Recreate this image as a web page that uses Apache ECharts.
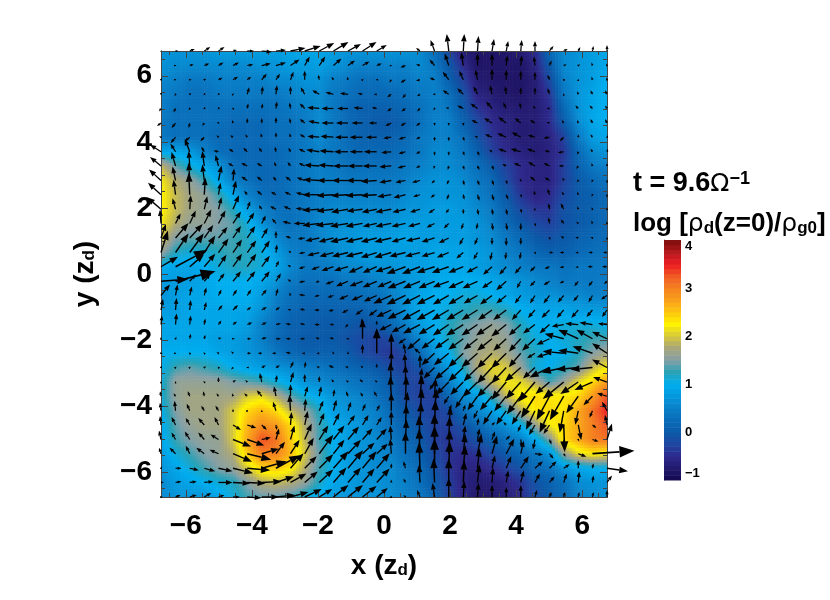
<!DOCTYPE html>
<html>
<head>
<meta charset="utf-8">
<style>
  html, body { margin: 0; background: #fff; }
  #chart { width: 830px; height: 600px; }
</style>
<script src="https://cdn.jsdelivr.net/npm/echarts@6/dist/echarts.min.js"></script>
</head>
<body>
<div id="chart"></div>
<script>
// dust density map (log, in tenths) with the velocity arrows on top, both on the same 32x32 nodes
const xNodes = [-6.75,-6.31,-5.88,-5.44,-5.01,-4.57,-4.14,-3.7,-3.27,-2.83,-2.4,-1.96,-1.53,-1.09,-0.65,-0.22,0.22,0.65,1.09,1.53,1.96,2.4,2.83,3.27,3.7,4.14,4.57,5.01,5.44,5.88,6.31,6.75];
const yNodes = [6.75,6.31,5.88,5.44,5.01,4.57,4.14,3.7,3.27,2.83,2.4,1.96,1.53,1.09,0.65,0.22,-0.22,-0.65,-1.09,-1.53,-1.96,-2.4,-2.83,-3.27,-3.7,-4.14,-4.57,-5.01,-5.44,-5.88,-6.31,-6.75];

const densityTenths = [
  [7,7,7,7,8,8,8,8,8,9,9,9,8,7,7,7,7,7,6,3,-2,-7,-8,-8,-8,-7,-5,2,6,7,8,9],
  [7,6,6,6,6,6,6,7,7,8,8,8,7,6,5,5,5,5,6,4,0,-5,-8,-8,-8,-8,-6,0,6,7,8,9],
  [6,5,4,4,5,5,5,5,6,6,7,7,5,4,3,3,4,4,5,5,1,-3,-7,-8,-8,-8,-7,-2,5,7,8,10],
  [5,4,3,3,4,4,4,4,4,5,6,6,4,3,2,2,2,3,4,5,3,-1,-6,-7,-8,-8,-7,-4,4,7,9,10],
  [5,3,3,3,3,3,3,3,3,4,5,6,4,2,1,1,1,2,3,5,4,0,-4,-6,-7,-7,-7,-5,2,7,9,10],
  [4,3,3,3,3,2,2,2,3,3,4,6,4,2,1,0,0,1,3,5,5,1,-2,-5,-6,-7,-7,-5,0,6,9,10],
  [4,3,3,3,2,2,2,2,3,3,4,6,4,2,1,1,1,2,4,5,5,3,-1,-4,-6,-7,-7,-6,-3,4,8,9],
  [9,9,8,5,3,2,2,2,2,3,4,5,4,3,2,2,2,3,4,6,6,4,1,-3,-5,-6,-7,-6,-4,2,6,7],
  [19,14,11,9,7,3,2,2,2,3,4,5,4,3,3,3,3,4,5,6,6,5,3,0,-3,-5,-6,-6,-3,1,4,5],
  [22,18,16,13,9,5,3,2,2,3,4,5,5,4,4,4,4,5,6,7,7,6,4,2,-2,-5,-6,-6,-3,0,2,3],
  [23,19,17,16,13,9,5,3,2,3,4,5,5,5,5,5,5,6,7,7,7,7,5,3,0,-4,-6,-5,-2,0,1,2],
  [23,19,17,16,15,12,8,5,3,3,4,5,6,6,6,6,6,7,7,8,8,7,6,4,1,-2,-4,-4,-1,0,1,2],
  [22,18,16,16,15,14,11,7,4,3,4,6,6,7,7,7,7,8,8,8,8,8,7,5,2,0,-2,-3,-1,0,1,2],
  [20,15,14,14,14,13,12,10,6,4,4,5,7,7,8,8,8,9,8,8,8,8,7,6,4,2,0,-1,0,1,2,2],
  [16,12,11,11,12,13,12,11,8,5,4,5,6,7,8,8,8,8,8,9,9,9,8,7,5,4,2,1,1,2,3,3],
  [10,9,9,10,11,12,12,11,9,6,4,4,5,6,6,7,7,8,8,9,9,9,8,7,6,5,4,4,3,4,4,4],
  [8,8,8,9,10,10,10,9,7,4,3,3,3,4,4,5,6,7,8,9,10,10,10,9,8,7,6,5,4,4,4,4],
  [7,8,9,9,10,10,10,8,5,3,2,2,2,2,3,3,5,7,9,10,10,11,11,10,9,8,7,7,6,6,5,5],
  [8,8,9,9,9,9,9,7,4,2,1,1,1,1,1,2,4,7,9,10,11,12,13,13,12,10,9,9,9,8,8,7],
  [9,9,9,9,9,9,8,5,3,1,1,0,0,0,-1,0,2,5,8,10,12,14,15,16,15,12,10,10,11,11,11,10],
  [9,9,9,9,8,8,7,5,2,1,0,0,0,-1,-2,-3,-2,2,6,9,12,14,16,17,16,13,11,10,11,12,13,13],
  [10,10,10,10,9,8,7,6,4,2,1,1,1,0,-2,-3,-4,-2,2,7,10,15,17,18,17,14,12,10,10,12,15,17],
  [10,13,14,13,12,10,9,8,7,6,5,4,3,2,1,0,-2,-3,-1,4,8,12,18,21,20,16,11,10,12,14,19,22],
  [11,16,16,16,16,15,14,13,11,9,7,6,5,4,3,2,0,-2,-3,0,5,9,15,19,22,21,18,13,16,21,24,28],
  [11,16,17,17,17,17,20,21,18,14,11,9,7,6,5,3,1,-2,-3,-3,2,6,8,13,19,23,24,23,23,24,28,33],
  [10,15,17,17,17,20,24,26,24,19,16,12,8,7,6,5,2,0,-2,-3,-2,3,6,8,12,18,23,24,23,27,31,35],
  [9,14,16,17,17,20,26,29,28,24,18,13,10,8,7,5,3,1,-1,-3,-3,-1,2,5,7,10,16,22,24,27,30,33],
  [9,13,15,16,16,20,27,33,31,25,19,13,10,8,7,6,4,2,0,-3,-4,-3,-1,1,3,5,9,15,24,27,30,31],
  [8,11,13,15,16,18,25,30,30,26,20,14,10,8,7,6,5,3,1,-2,-4,-5,-4,-2,0,2,4,7,16,21,23,22],
  [7,9,11,13,15,16,20,24,25,23,18,13,10,8,7,6,6,4,2,-1,-4,-6,-6,-5,-3,-1,2,3,7,9,10,10],
  [6,8,9,10,11,12,15,18,19,18,16,12,9,8,7,7,6,5,3,0,-3,-6,-7,-7,-6,-4,-1,1,3,6,7,7],
  [6,7,7,7,9,11,13,14,14,13,11,9,8,7,7,7,6,5,4,1,-3,-6,-8,-8,-7,-5,-2,0,2,5,6,7]
];

const arrowU = [
  [0,3,5,6,6,4,7,10,10,15,16,15,15,13,14,10,0,0,-4,-4,-2,1,1,2,2,1,0,4,4,2,1,0],
  [0,1,4,5,5,6,6,9,10,9,5,6,8,7,7,5,1,-5,-4,-5,-4,-2,0,0,1,1,-1,2,3,2,-1,-1],
  [1,1,2,2,4,5,4,5,4,3,0,-1,-2,-1,1,-1,-2,-5,-4,-5,-6,-4,-2,0,0,0,0,-2,-1,0,-1,-1],
  [0,-1,-1,-1,-1,1,2,1,1,0,-4,-7,-8,-8,-5,-3,-4,-3,-3,-2,-6,-6,-4,-2,-1,0,0,-2,0,-1,-2,-2],
  [-2,-2,-1,-1,-1,-1,1,1,1,-1,-5,-12,-12,-11,-9,-5,-4,-4,-3,-1,-3,-6,-7,-6,-3,-1,-2,-3,0,-3,-3,-2],
  [-4,-4,-1,-2,1,-1,0,0,0,-1,-5,-11,-12,-12,-11,-8,-6,-5,-4,0,0,0,-6,-8,-8,-6,-5,-3,-2,-1,-2,-2],
  [-2,-5,-5,-4,-2,-3,-2,-1,0,-1,-5,-12,-13,-13,-13,-11,-8,-7,-4,0,0,1,-3,-7,-9,-9,-7,-6,-4,0,-2,1],
  [-11,-5,-5,-3,-5,-4,-4,-3,-1,-2,-6,-13,-14,-14,-13,-13,-10,-7,-4,0,0,1,2,-3,-8,-10,-8,-5,-6,-1,-2,1],
  [-11,-4,-1,-2,-3,-5,-6,-5,-2,-3,-6,-15,-15,-15,-15,-14,-12,-8,-4,-1,-1,1,2,2,-4,-7,-7,-6,-5,-2,-1,0],
  [-12,-3,-1,-2,3,1,-6,-5,-3,-5,-8,-16,-16,-16,-16,-16,-12,-10,-8,-3,-2,1,2,2,1,-1,-5,-5,-1,-1,-1,0],
  [-13,-2,-1,1,2,3,-3,-5,-5,-6,-9,-17,-17,-17,-17,-16,-14,-12,-7,-4,-2,1,2,2,2,1,-1,-2,-2,-1,-1,0],
  [-14,-3,1,3,3,6,3,-3,-6,-7,-9,-17,-17,-17,-16,-15,-16,-13,-10,-6,-3,0,1,1,1,1,1,-1,-3,-1,-1,0],
  [-1,5,6,7,7,8,7,4,-4,-8,-11,-17,-18,-18,-17,-14,-16,-14,-12,-8,-5,-2,-1,1,1,0,1,-1,-3,-2,-1,-1],
  [5,13,13,9,9,8,8,6,0,-5,-7,-14,-15,-18,-17,-16,-17,-14,-14,-13,-10,-4,-3,0,0,0,0,1,-3,-3,-2,0],
  [7,13,14,11,10,9,9,8,1,-2,-6,-12,-14,-16,-17,-16,-17,-16,-15,-13,-12,-7,-4,-2,-1,-1,1,4,-4,-3,-4,-4],
  [17,32,14,11,8,9,9,8,3,-3,-6,-8,-12,-14,-14,-14,-16,-19,-18,-18,-17,-15,-11,-9,-7,-6,-5,-5,-4,-3,-5,-5],
  [27,40,6,6,6,8,8,8,5,-3,-6,-4,-8,-12,-13,-14,-14,-18,-17,-16,-16,-15,-15,-10,-10,-4,-5,-6,-4,-4,-4,-3],
  [9,2,2,2,3,4,4,5,2,-1,-6,-5,-6,-9,-11,-13,-18,-19,-18,-18,-16,-15,-14,-12,-10,-6,-5,-6,-6,-5,-4,-6],
  [2,1,1,2,4,5,4,5,4,-3,-5,-5,-5,-6,-7,-8,-15,-18,-18,-18,-17,-17,-16,-14,-13,-9,-7,-8,-7,-7,-6,-5],
  [1,1,1,1,3,4,5,5,5,-5,-5,-5,-4,-3,-1,0,-12,-14,-17,-16,-16,-17,-16,-16,-15,-12,-12,-10,-12,-13,-13,-9],
  [0,1,1,1,3,2,4,5,5,-5,-5,-4,-4,-2,0,0,-1,-7,-13,-13,-14,-15,-14,-15,-13,-12,-13,-13,-19,-20,-16,-15],
  [2,1,-1,-1,-2,-2,4,-4,-4,-5,-3,-3,-1,0,0,0,0,-2,-6,-13,-15,-15,-16,-15,-15,-12,-8,-13,-21,-20,-20,-15],
  [1,1,1,2,-1,-2,-1,4,4,3,1,-3,-5,-3,-2,0,0,-1,0,-11,-14,-15,-14,-15,-15,-16,-12,-20,-22,-22,-22,-15],
  [0,0,0,-1,0,3,-2,-2,1,3,0,0,-2,-2,-3,-2,-1,0,2,-5,-13,-13,-15,-15,-15,-15,-17,-14,-21,-18,-18,-14],
  [-1,-2,-2,-1,-2,-1,-3,-5,-2,0,3,2,1,-2,-2,-3,-1,1,2,1,-5,-8,-10,-12,-12,-14,-14,-13,-14,-12,-9,-10],
  [-1,-1,-3,-3,-3,0,1,0,-3,-1,1,4,3,3,3,3,0,2,2,2,3,2,-4,-9,-10,-9,-9,-10,-4,-3,-3,-5],
  [-1,-4,-4,-6,-4,8,9,5,1,1,3,5,6,7,6,5,0,1,1,1,2,3,1,3,-3,-3,-6,-6,1,3,4,-2],
  [-2,-4,-5,-6,-8,18,17,9,3,4,7,9,11,11,10,10,-1,1,-1,0,1,2,2,3,4,1,-2,2,1,1,6,5],
  [-2,-6,-4,-8,-9,19,24,17,9,9,9,14,11,13,12,11,-1,0,-1,0,1,2,4,5,8,3,8,4,2,8,42,0],
  [1,6,9,11,14,20,23,25,24,13,12,14,15,15,14,13,0,-2,-1,0,1,2,2,3,5,8,8,7,6,0,1,21],
  [3,6,7,9,14,17,18,20,18,16,13,14,13,13,12,13,0,-2,-1,-1,0,1,2,1,2,3,5,5,3,1,1,5],
  [2,5,7,7,6,7,14,17,19,18,17,13,15,15,14,11,-2,-2,-3,-2,0,1,1,0,0,0,2,2,1,1,1,0]
];

const arrowV = [
  [0,0,2,4,4,1,0,-1,1,3,5,8,9,7,9,6,0,0,3,11,17,17,15,12,10,11,10,5,2,4,5,6],
  [0,0,1,2,3,3,1,2,3,6,9,9,7,5,4,2,0,-2,1,6,12,13,12,12,10,10,9,5,1,1,3,2],
  [2,0,0,1,2,3,3,6,6,8,9,5,3,3,1,0,-3,-3,-1,2,8,9,10,11,10,9,8,5,1,1,3,2],
  [-1,-2,-1,-1,-1,1,7,8,9,8,7,4,2,1,1,0,-3,-4,-2,0,4,6,8,9,8,7,7,6,1,3,4,4],
  [-3,-4,-2,-1,-1,1,5,5,7,6,5,1,0,0,1,1,-3,-3,-3,-2,1,3,5,7,6,6,3,0,0,3,3,3],
  [-3,-5,-5,-3,-1,3,5,5,6,5,4,2,0,0,0,0,-3,-3,-3,-3,-3,-3,3,5,6,5,3,1,3,3,4,4],
  [1,-6,-4,-4,2,2,3,4,5,4,3,1,1,0,0,0,-1,-2,-2,-4,-4,-4,1,3,4,5,2,-1,-4,3,3,2],
  [7,8,13,5,1,3,4,4,5,4,3,2,1,0,0,0,-1,-2,-2,-4,-4,-4,-4,2,3,3,3,1,-1,-3,3,3],
  [9,14,15,15,11,3,3,3,4,4,3,1,1,0,0,0,-1,-2,-2,-3,-4,-4,-4,-4,2,3,4,3,0,-3,3,3],
  [11,14,18,16,15,12,4,4,4,4,3,1,0,0,0,-1,-2,-2,-2,-3,-4,-5,-5,-5,-4,2,4,3,3,-2,-2,-3],
  [12,15,22,17,12,14,4,4,3,3,2,0,-1,-1,-1,-1,-2,-3,-2,-3,-5,-5,-6,-6,-5,-3,4,6,3,3,-2,-3],
  [12,11,14,13,12,14,8,4,3,3,1,-1,-2,-3,-2,-3,-3,-3,-3,-4,-4,-5,-6,-6,-6,-4,1,6,6,3,2,2],
  [14,10,13,14,13,12,11,8,5,2,0,-2,-2,-3,-3,-3,-3,-3,-3,-4,-5,-6,-6,-7,-7,-7,-3,6,4,2,3,2],
  [14,15,14,13,11,12,12,10,7,2,-1,-3,-4,-4,-4,-4,-4,-4,-3,-4,-5,-7,-7,-7,-8,-7,0,-2,2,1,1,1],
  [22,19,19,17,14,13,12,12,8,2,-1,-3,-4,-4,-4,-5,-5,-4,-4,-4,-5,-6,-7,-8,-7,-7,-2,0,0,0,0,0],
  [10,17,12,13,12,13,13,11,6,2,-2,-3,-4,-4,-6,-6,-5,-7,-7,-6,-6,-6,-6,-8,-8,-7,-5,-2,-1,-1,0,0],
  [2,10,7,7,8,10,10,10,8,2,-1,-1,-3,-5,-5,-6,-6,-7,-7,-7,-6,-7,-7,-7,-9,-7,-5,-4,-2,-5,-5,-3],
  [11,11,9,8,6,6,6,6,7,3,1,-1,-2,-4,-5,-6,-8,-9,-9,-9,-9,-9,-8,-9,-8,-8,-8,-8,-7,-6,-7,-4],
  [11,12,10,8,5,5,3,3,3,1,1,0,-1,-3,-5,-6,-7,-9,-10,-10,-10,-10,-10,-10,-10,-10,-8,-8,-8,-8,-7,-7],
  [9,11,9,6,4,3,2,2,1,1,1,0,0,-3,6,4,-6,-8,-9,-10,-11,-11,-11,-11,-12,-11,-9,-9,-2,1,2,1],
  [2,2,5,4,1,0,0,1,0,0,0,1,1,0,20,10,-3,-5,-11,-10,-10,-11,-11,-12,-12,-13,-12,-6,5,9,9,7],
  [0,0,1,1,1,2,0,0,0,1,0,0,2,2,9,25,20,10,5,-12,-12,-14,-14,-15,-15,-14,-5,-4,2,3,7,10],
  [2,1,1,1,1,-2,0,2,2,6,6,1,2,1,2,4,16,14,13,-11,-12,-14,-14,-16,-16,-14,-11,-10,-5,-2,-2,8],
  [1,1,0,1,5,2,2,9,7,10,8,6,3,2,3,2,20,17,14,-8,-13,-13,-15,-15,-18,-17,-20,-12,-17,-12,-8,5],
  [5,3,5,5,3,3,3,6,10,12,10,10,7,5,4,5,20,20,21,18,-8,-12,-14,-14,-15,-18,-22,-24,-24,-17,-9,3],
  [8,10,7,5,5,2,1,1,9,16,12,10,11,9,7,6,18,19,22,22,6,6,-8,-14,-14,-14,-19,-22,-22,-14,-7,9],
  [9,8,7,7,8,-5,-3,-5,-5,13,14,12,12,10,10,8,14,20,23,25,18,12,7,3,3,-7,-10,-9,-27,-15,-3,10],
  [9,7,8,7,5,-7,-6,2,11,14,16,14,14,13,11,11,14,20,24,26,23,14,11,8,4,-8,-10,-5,-5,-2,-2,16],
  [6,6,8,6,4,-8,-6,5,12,14,16,19,14,14,11,10,15,22,25,28,24,20,20,18,15,13,-1,-5,-3,-3,3,0],
  [2,0,-2,-3,-3,-5,-2,7,13,15,12,14,17,18,17,15,5,7,26,30,27,23,20,13,12,12,7,7,4,8,5,-3],
  [0,1,1,1,0,-1,-1,1,6,9,11,13,15,15,14,14,3,4,18,24,24,22,18,15,12,12,9,6,9,11,7,7],
  [0,2,2,4,2,0,-1,0,2,5,8,8,12,12,11,9,-1,2,7,14,19,16,14,12,10,12,7,5,5,5,5,7]
];

const tickValues = [-6, -4, -2, 0, 2, 4, 6];
const minorTickValues = [-6.5, -5.5, -5, -4.5, -3.5, -3, -2.5, -1.5, -1, -0.5, 0.5, 1, 1.5, 2.5, 3, 3.5, 4.5, 5, 5.5, 6.5];
const colorbarLevels = [-1,-0.9,-0.8,-0.7,-0.6,-0.5,-0.4,-0.3,-0.2,-0.1,0,0.1,0.2,0.3,0.4,0.5,0.6,0.7,0.8,0.9,1,1.1,1.2,1.3,1.4,1.5,1.6,1.7,1.8,1.9,2,2.1,2.2,2.3,2.4,2.5,2.6,2.7,2.8,2.9,3,3.1,3.2,3.3,3.4,3.5,3.6,3.7,3.8,3.9];

// evenly spaced from -1 to 4
const colormap = ['#12084f','#231a6e','#2e2a8c','#1f46a0','#0b5aa8','#0a6cb8','#0a80c8','#0598dc','#00aeef','#2aa2b6','#85a0a6','#a8a67c','#d6c83c','#fff200','#fdc70f','#f9a01b','#f58220','#f15a24','#ed1c24','#b51a1f','#7a0c0c'];

const FONT = '"Liberation Sans", Arial, sans-serif';
const SUBDIV = 5;
const AXIS_MIN = -6.75;
const AXIS_MAX = 6.75;

function colorOf(v) {
  const t = Math.min(1, Math.max(0, (v + 1) / 5));
  return echarts.color.lerp(t, colormap);
}

// one quad between four nodes, shaded across like the contour fill of the original
function renderDensityCell(params, api) {
  const p0 = api.coord([api.value(0), api.value(1)]);
  const p1 = api.coord([api.value(2), api.value(3)]);
  const [d00, d10, d01, d11] = [api.value(4), api.value(5), api.value(6), api.value(7)];
  const w = (p1[0] - p0[0]) / SUBDIV;
  const h = (p1[1] - p0[1]) / SUBDIV;
  const children = [];
  for (let a = 0; a < SUBDIV; a++) {
    for (let b = 0; b < SUBDIV; b++) {
      const s = (a + 0.5) / SUBDIV;
      const t = (b + 0.5) / SUBDIV;
      const v = (d00 * (1 - s) + d10 * s) * (1 - t) + (d01 * (1 - s) + d11 * s) * t;
      children.push({
        type: 'rect',
        shape: { x: p0[0] + a * w, y: p0[1] + b * h, width: w + 0.6, height: h + 0.6 },
        style: { fill: colorOf(v / 10) },
      });
    }
  }
  return { type: 'group', silent: true, children };
}

function renderArrow(params, api) {
  const p = api.coord([api.value(0), api.value(1)]);
  const dx = api.value(2);
  const dy = -api.value(3);
  const len = Math.hypot(dx, dy);
  if (len < 0.5) return null;
  const ux = dx / len;
  const uy = dy / len;
  const tip = [p[0] + dx, p[1] + dy];
  const headLen = Math.min(15, 2 + len * 0.32);
  const headHalf = headLen * 0.38;
  const base = [tip[0] - ux * headLen, tip[1] - uy * headLen];
  return {
    type: 'group',
    silent: true,
    children: [
      {
        type: 'line',
        shape: { x1: p[0], y1: p[1], x2: base[0], y2: base[1] },
        style: { stroke: '#000', lineWidth: 1.1 + len * 0.015 },
      },
      {
        type: 'polygon',
        shape: {
          points: [
            tip,
            [base[0] - uy * headHalf, base[1] + ux * headHalf],
            [base[0] + uy * headHalf, base[1] - ux * headHalf],
          ],
        },
        style: { fill: '#000' },
      },
    ],
  };
}

function renderColorbarStep(params, api) {
  const p0 = api.coord([0, api.value(0) + 0.1]);
  const p1 = api.coord([1, api.value(0)]);
  return {
    type: 'rect',
    silent: true,
    shape: { x: p0[0], y: p0[1], width: p1[0] - p0[0], height: p1[1] - p0[1] + 0.5 },
    style: { fill: colorOf(api.value(0) + 0.05) },
  };
}

function axisLabelText(v) {
  return v < 0 ? '\u2212' + -v : String(v);
}

// frame axes: major and minor ticks on all four sides, labels only on bottom and left
function frameAxis(position, ticks, tickLen, labelled) {
  const axis = {
    type: 'value',
    position,
    min: AXIS_MIN,
    max: AXIS_MAX,
    gridIndex: 0,
    z: 6,
    splitLine: { show: false },
    axisLine: { show: true, onZero: false, lineStyle: { color: '#444', width: 1 } },
    axisTick: { show: true, inside: true, length: tickLen, customValues: ticks, lineStyle: { color: '#444', width: 1 } },
    axisLabel: { show: false },
  };
  if (labelled) {
    axis.axisLabel = {
      show: true,
      customValues: ticks,
      color: '#000',
      fontFamily: FONT,
      fontWeight: 'bold',
      fontSize: 28,
      margin: position === 'bottom' ? 15 : 9,
      padding: position === 'bottom' ? 0 : [4, 0, 0, 0],
      formatter: axisLabelText,
    };
    axis.nameLocation = 'middle';
    axis.nameTextStyle = {
      color: '#000',
      fontFamily: FONT,
      fontWeight: 'bold',
      fontSize: 28,
      rich: { sub: { fontFamily: FONT, fontWeight: 'bold', fontSize: 17, padding: [9, 0, 0, 0] } },
    };
    axis.name = position === 'bottom' ? 'x (z{sub|d})' : 'y (z{sub|d})';
    axis.nameGap = position === 'bottom' ? 55 : 62;
  }
  return axis;
}

const cellData = [];
for (let j = 0; j < yNodes.length - 1; j++) {
  for (let i = 0; i < xNodes.length - 1; i++) {
    cellData.push([
      xNodes[i], yNodes[j], xNodes[i + 1], yNodes[j + 1],
      densityTenths[j][i], densityTenths[j][i + 1], densityTenths[j + 1][i], densityTenths[j + 1][i + 1],
    ]);
  }
}

const arrowData = [];
for (let j = 0; j < yNodes.length; j++) {
  for (let i = 0; i < xNodes.length; i++) {
    arrowData.push([xNodes[i], yNodes[j], arrowU[j][i], arrowV[j][i]]);
  }
}

const titleRich = {
  sym: { fontFamily: '"DejaVu Sans", sans-serif', fontWeight: 'normal', fontSize: 25 },
  sup: { fontFamily: FONT, fontWeight: 'bold', fontSize: 18, padding: [0, 0, 10, 0] },
  sub: { fontFamily: FONT, fontWeight: 'bold', fontSize: 17, padding: [9, 0, 0, 0] },
};

const chart = echarts.init(document.getElementById('chart'), null, { renderer: 'canvas' });
chart.setOption({
  animation: false,
  backgroundColor: '#fff',
  title: [
    {
      text: 't = 9.6{sym|\u03A9}{sup|\u22121}',
      left: 628,
      top: 165,
      textStyle: { color: '#000', fontFamily: FONT, fontWeight: 'bold', fontSize: 27, rich: titleRich },
    },
    {
      text: 'log [{sym|\u03C1}{sub|d}(z=0)/{sym|\u03C1}{sub|g0}]',
      left: 628,
      top: 206,
      textStyle: { color: '#000', fontFamily: FONT, fontWeight: 'bold', fontSize: 26, rich: titleRich },
    },
  ],
  grid: [
    { left: 161, top: 51, width: 446, height: 446 },
    { left: 664, top: 240, width: 17, height: 240 },
  ],
  xAxis: [
    frameAxis('bottom', tickValues, 7, true),
    frameAxis('bottom', minorTickValues, 4, false),
    frameAxis('top', tickValues, 7, false),
    frameAxis('top', minorTickValues, 4, false),
    { type: 'value', gridIndex: 1, min: 0, max: 1, show: false },
  ],
  yAxis: [
    frameAxis('left', tickValues, 7, true),
    frameAxis('left', minorTickValues, 4, false),
    frameAxis('right', tickValues, 7, false),
    frameAxis('right', minorTickValues, 4, false),
    {
      type: 'value',
      gridIndex: 1,
      position: 'right',
      min: -1,
      max: 4,
      interval: 1,
      splitLine: { show: false },
      axisLine: { show: true, lineStyle: { color: '#777', width: 1 } },
      axisTick: { show: false },
      axisLabel: {
        color: '#000',
        fontFamily: FONT,
        fontWeight: 'bold',
        fontSize: 13,
        margin: 4,
        verticalAlignMinLabel: 'bottom',
        verticalAlignMaxLabel: 'top',
        formatter: axisLabelText,
      },
    },
  ],
  series: [
    {
      name: 'density',
      type: 'custom',
      xAxisIndex: 0,
      yAxisIndex: 0,
      z: 1,
      progressive: 0,
      silent: true,
      renderItem: renderDensityCell,
      encode: { x: 0, y: 1 },
      data: cellData,
    },
    {
      name: 'velocity',
      type: 'custom',
      xAxisIndex: 0,
      yAxisIndex: 0,
      z: 10,
      progressive: 0,
      silent: true,
      clip: false,
      renderItem: renderArrow,
      encode: { x: 0, y: 1 },
      data: arrowData,
    },
    {
      name: 'colorbar',
      type: 'custom',
      xAxisIndex: 4,
      yAxisIndex: 4,
      z: 1,
      silent: true,
      renderItem: renderColorbarStep,
      encode: { y: 0 },
      data: colorbarLevels.map((v) => [v]),
    },
  ],
});
</script>
</body>
</html>
